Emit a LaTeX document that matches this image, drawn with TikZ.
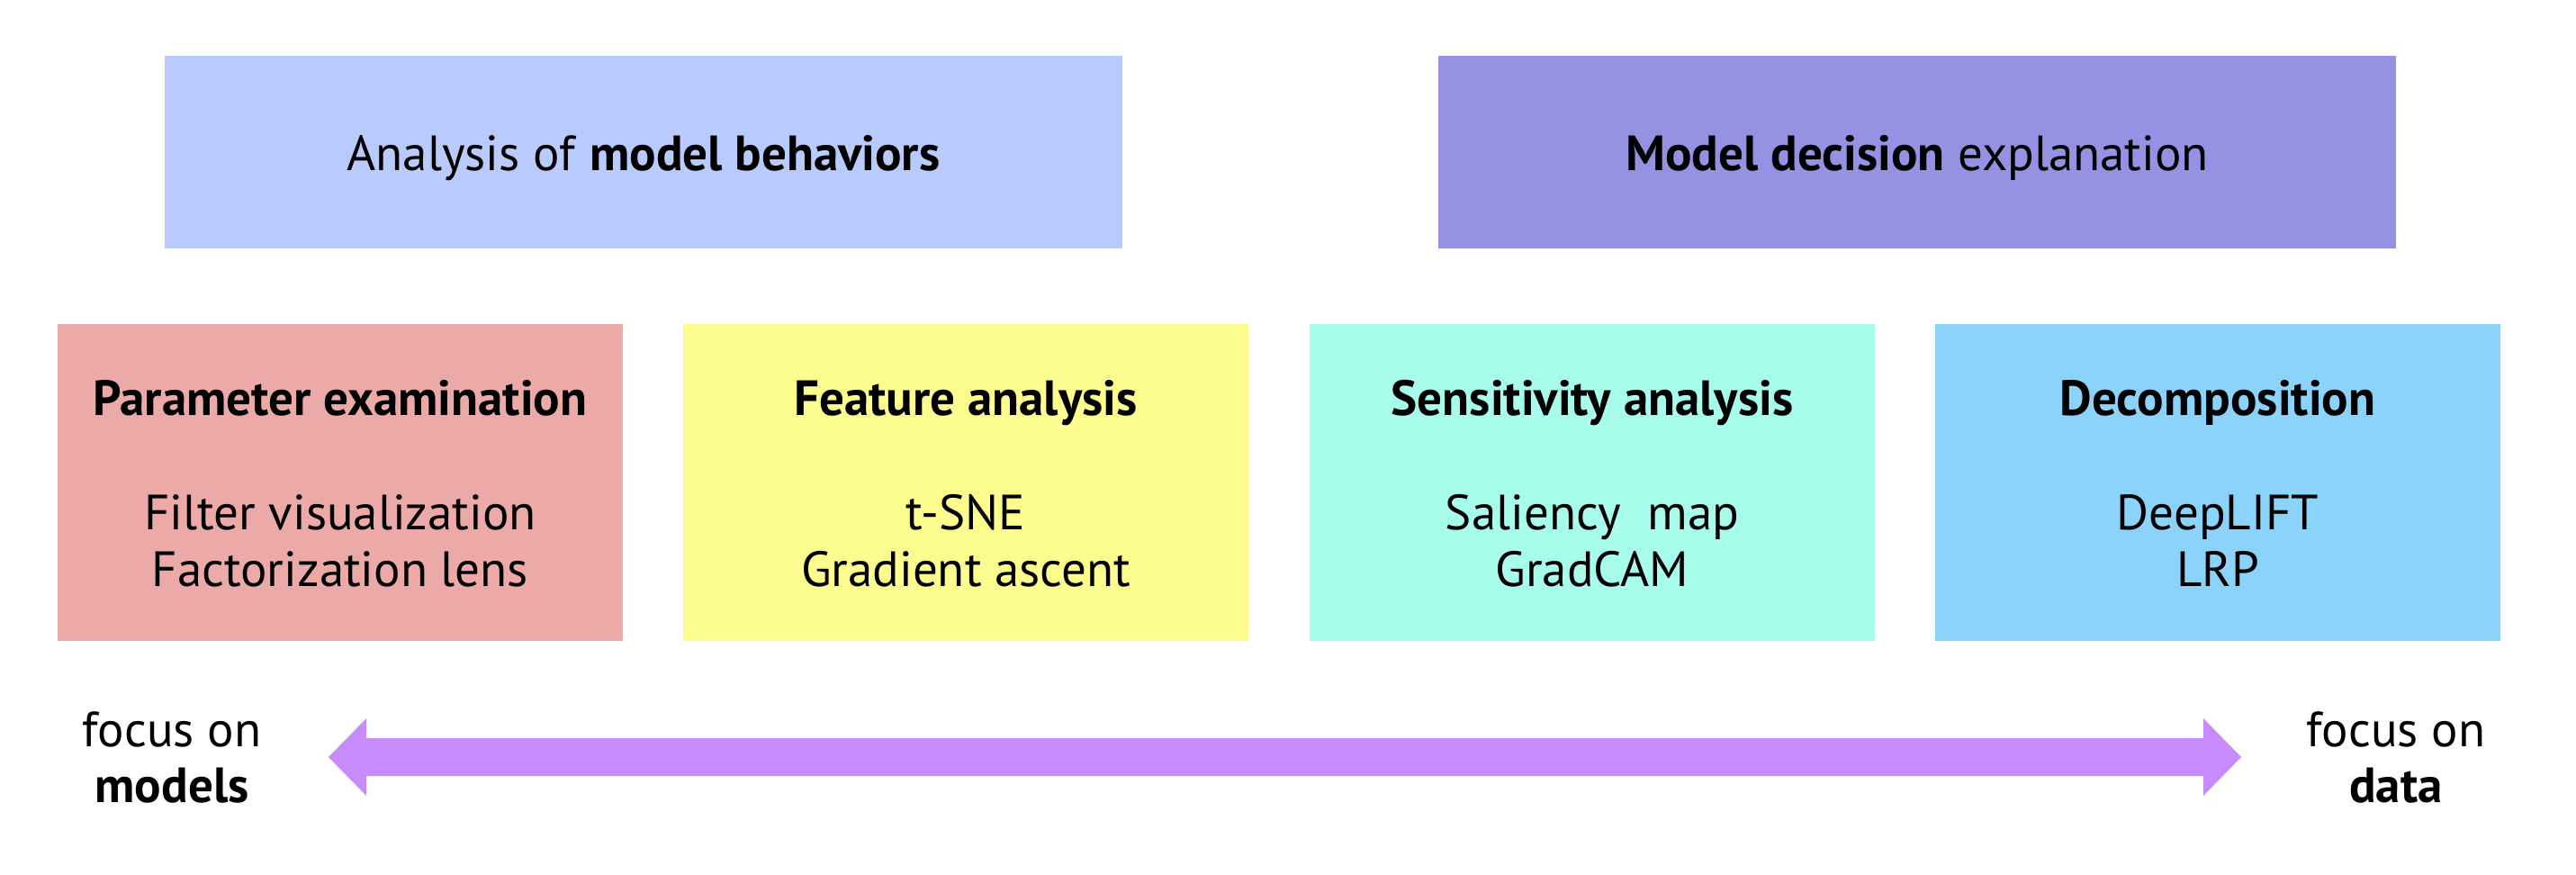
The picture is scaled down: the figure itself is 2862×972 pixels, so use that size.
\documentclass[tikz,border=0pt]{standalone}
\usepackage{fontspec}
\setmainfont{PT Sans}
\definecolor{topL}{RGB}{185,202,252}
\definecolor{topR}{RGB}{149,145,227}
\definecolor{bxA}{RGB}{235,169,168}
\definecolor{bxB}{RGB}{252,252,143}
\definecolor{bxC}{RGB}{168,252,236}
\definecolor{bxD}{RGB}{139,211,251}
\definecolor{arrc}{RGB}{199,139,251}
\tikzset{
  topbox/.style={minimum width=532pt, minimum height=107pt, inner sep=0pt, draw=none},
  catbox/.style={minimum width=314pt, minimum height=176pt, inner sep=0pt, draw=none},
  txt/.style={inner sep=0pt, anchor=base, font=\fontsize{27.5}{32}\selectfont},
}
\begin{document}
\begin{tikzpicture}[x=0.5pt,y=-0.5pt]
\useasboundingbox[fill=white] (0,0) rectangle (2862,972);
% top boxes
\node[topbox, fill=topL] (tl) at (715,169) {};
\node[topbox, fill=topR] (tr) at (2130,169) {};
\node[txt] (tlt) at (715,190) {Analysis of \textbf{model behaviors}};
\node[txt] (trt) at (2130,190) {\textbf{Model decision} explanation};
% category boxes
\node[catbox, fill=bxA] (b1) at (378,536) {};
\node[catbox, fill=bxB] (b2) at (1073,536) {};
\node[catbox, fill=bxC] (b3) at (1769,536) {};
\node[catbox, fill=bxD] (b4) at (2464,536) {};
\node[txt] (b1t) at (378,462) {\textbf{Parameter examination}};
\node[txt] (b1a) at (378,588) {Filter visualization};
\node[txt] (b1b) at (378,651) {Factorization lens};
\node[txt] (b2t) at (1073,462) {\textbf{Feature analysis}};
\node[txt] (b2a) at (1073,588) {t-SNE};
\node[txt] (b2b) at (1073,651) {Gradient ascent};
\node[txt] (b3t) at (1769,462) {\textbf{Sensitivity analysis}};
\node[txt] (b3a) at (1769,588) {Saliency\ \ map};
\node[txt] (b3b) at (1769,651) {GradCAM};
\node[txt] (b4t) at (2464,462) {\textbf{Decomposition}};
\node[txt] (b4a) at (2464,588) {DeepLIFT};
\node[txt] (b4b) at (2464,651) {LRP};
% focus labels
\node[txt] (fm1) at (191,829) {focus on};
\node[txt] (fm2) at (191,891) {\textbf{models}};
\node[txt] (fd1) at (2662,829) {focus on};
\node[txt] (fd2) at (2662,891) {\textbf{data}};
% double arrow
\coordinate (aL) at (365,841);
\coordinate (aR) at (2490,841);
\fill[arrc] (aL) -- ([shift={(42,-43)}]aL) -- ([shift={(42,-21)}]aL)
  -- ([shift={(-42,-21)}]aR) -- ([shift={(-42,-43)}]aR) -- (aR)
  -- ([shift={(-42,43)}]aR) -- ([shift={(-42,21)}]aR)
  -- ([shift={(42,21)}]aL) -- ([shift={(42,43)}]aL) -- cycle;
\end{tikzpicture}
\end{document}
